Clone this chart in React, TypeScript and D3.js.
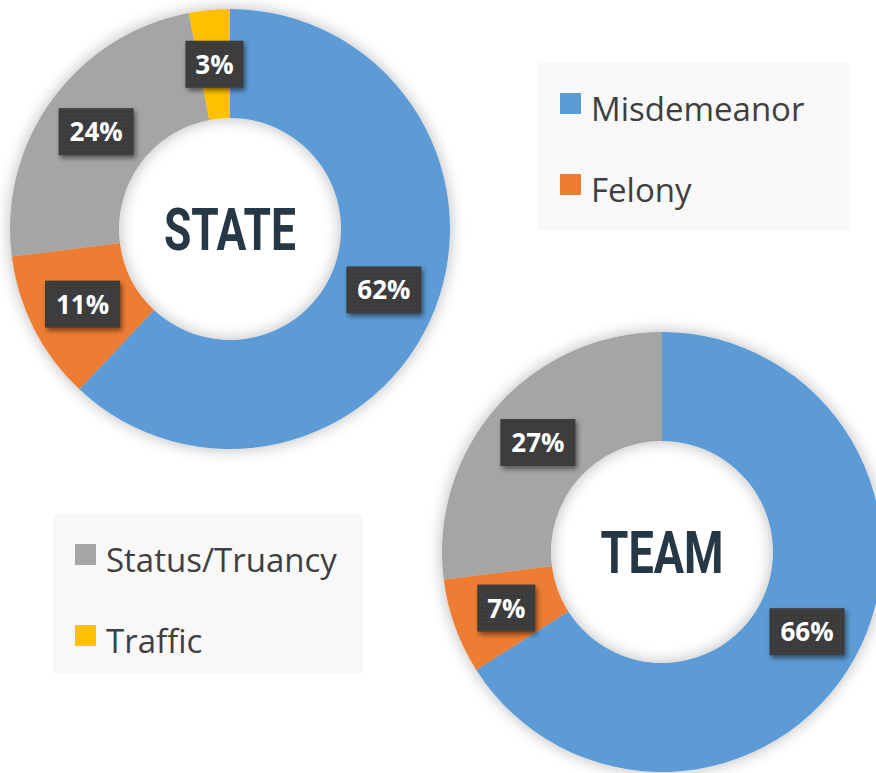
import React from 'react';
import * as d3 from 'd3';

const categories = ['Misdemeanor', 'Felony', 'Status/Truancy', 'Traffic'];
const stateValues = [62, 11, 24, 3];
const teamValues = [66, 7, 27, 0];
const colors = ['#5B9BD5', '#ED7D31', '#A5A5A5', '#FFC000'];
const chartTitles = ['STATE', 'TEAM'];

const W = 876;
const H = 773;

type DonutProps = { values: number[]; cx: number; cy: number; title: string; titleWidth: number; id: string };

function Donut({ values, cx, cy, title, titleWidth, id }: DonutProps) {
  const outerR = 220;
  const innerR = 111;
  const pie = d3.pie<number>().sort(null).value((d) => d);
  const arcs = pie(values);
  const arc = d3.arc<d3.PieArcDatum<number>>().innerRadius(innerR).outerRadius(outerR);
  const labelArc = d3.arc<d3.PieArcDatum<number>>().innerRadius((innerR + outerR) / 2).outerRadius((innerR + outerR) / 2);
  return (
    <g transform={`translate(${cx},${cy})`}>
      <g filter="url(#ringShadow)">
        {arcs.map((a, i) => (a.value > 0 ? <path key={i} d={arc(a) || ''} fill={colors[i]} /> : null))}
      </g>
      {arcs.map((a, i) => {
        if (a.value <= 0) return null;
        const [x, y] = labelArc.centroid(a);
        const label = `${a.value}%`;
        const bw = label.length * 17 + 24;
        const bh = 47;
        return (
          <g key={'l' + i} transform={`translate(${x},${y})`}>
            <g filter="url(#boxShadow)">
              <rect x={-bw / 2} y={-bh / 2} width={bw} height={bh} fill="#3a3a3a" />
            </g>
            <rect x={-bw / 2} y={-bh / 2} width={bw} height={bh} fill="url(#dots)" />
            <text
              x={0}
              y={9.5}
              textAnchor="middle"
              fill="#ffffff"
              fontFamily="'Open Sans', sans-serif"
              fontWeight={700}
              fontSize={26}
            >
              {label}
            </text>
          </g>
        );
      })}
      <text
        x={0}
        y={21}
        textAnchor="middle"
        fill="#263746"
        fontFamily="Roboto, 'DejaVu Sans', sans-serif"
        fontWeight={700}
        fontSize={59}
        textLength={titleWidth}
        lengthAdjust="spacingAndGlyphs"
      >
        {title}
      </text>
    </g>
  );
}

type LegendProps = { x: number; y: number; w: number; h: number; items: number[] };

function Legend({ x, y, w, h, items }: LegendProps) {
  return (
    <g transform={`translate(${x},${y})`}>
      <rect x={0} y={0} width={w} height={h} fill="#f8f8f8" />
      {items.map((ci, k) => (
        <g key={ci} transform={`translate(22,${30 + k * 81})`}>
          <rect x={0} y={0} width={21} height={21} fill={colors[ci]} />
          <text
            x={31}
            y={28}
            fill="#3f3f3f"
            fontFamily="'Open Sans', sans-serif"
            fontSize={33}
          >
            {categories[ci]}
          </text>
        </g>
      ))}
    </g>
  );
}

export default function App() {
  return (
    <svg width={W} height={H} style={{ position: 'absolute', left: 0, top: 0, background: '#ffffff' }}>
      <defs>
        <filter id="ringShadow" x="-20%" y="-20%" width="140%" height="140%">
          <feGaussianBlur in="SourceAlpha" stdDeviation="8" />
          <feComponentTransfer>
            <feFuncA type="linear" slope="0.28" />
          </feComponentTransfer>
          <feMerge>
            <feMergeNode />
            <feMergeNode in="SourceGraphic" />
          </feMerge>
        </filter>
        <filter id="boxShadow" x="-30%" y="-30%" width="160%" height="160%">
          <feGaussianBlur in="SourceAlpha" stdDeviation="2.5" />
          <feOffset dx="2" dy="3" result="b" />
          <feComponentTransfer>
            <feFuncA type="linear" slope="0.5" />
          </feComponentTransfer>
          <feMerge>
            <feMergeNode />
            <feMergeNode in="SourceGraphic" />
          </feMerge>
        </filter>
        <pattern id="dots" width="4" height="4" patternUnits="userSpaceOnUse">
          <circle cx="2" cy="2" r="0.6" fill="#555555" />
        </pattern>
      </defs>
      <Legend x={538} y={63} w={311} h={167} items={[0, 1]} />
      <Legend x={53} y={514} w={310} h={159} items={[2, 3]} />
      <Donut values={stateValues} cx={230} cy={229} title={chartTitles[0]} titleWidth={132} id="s" />
      <Donut values={teamValues} cx={662} cy={552} title={chartTitles[1]} titleWidth={123} id="t" />
    </svg>
  );
}
